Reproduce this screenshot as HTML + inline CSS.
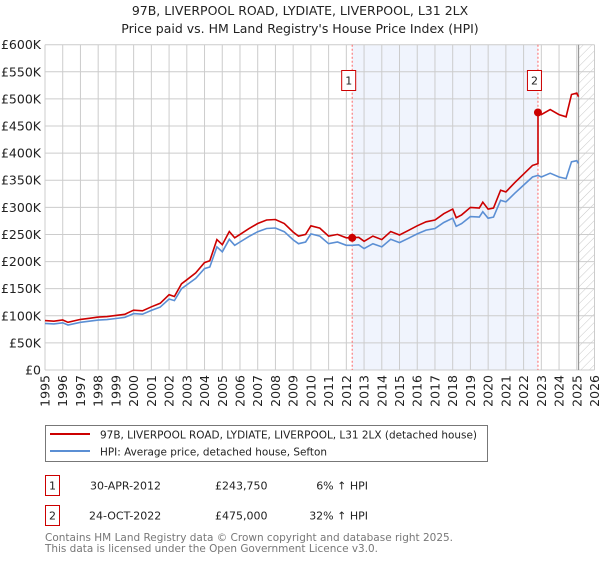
<!DOCTYPE html>
<html><head><meta charset="utf-8">
<style>
html,body{margin:0;padding:0;background:#fff;}
body{width:600px;height:560px;overflow:hidden;font-family:"DejaVu Sans","Liberation Sans",sans-serif;}
svg text{font-family:"DejaVu Sans","Liberation Sans",sans-serif;}
</style></head><body>
<svg id="chart" width="600" height="560" viewBox="0 0 600 560" xmlns="http://www.w3.org/2000/svg">
<defs>
<pattern id="hatch" width="6" height="6" patternUnits="userSpaceOnUse" patternTransform="rotate(45)">
<line x1="0" y1="0" x2="0" y2="6" stroke="#bbb" stroke-width="0.8"/>
</pattern>
</defs>
<text x="300" y="15" text-anchor="middle" font-size="12.5" fill="#222">97B, LIVERPOOL ROAD, LYDIATE, LIVERPOOL, L31 2LX</text>
<text x="300" y="33" text-anchor="middle" font-size="12.5" fill="#222">Price paid vs. HM Land Registry's House Price Index (HPI)</text>
<g id="plot"></g>
<g>
<rect x="45.5" y="425.5" width="442" height="36" fill="#fff" stroke="#777"/>
<line x1="50" y1="434" x2="90" y2="434" stroke="#cc0000" stroke-width="2"/>
<text x="100" y="438.5" font-size="11" textLength="377" lengthAdjust="spacingAndGlyphs" fill="#222">97B, LIVERPOOL ROAD, LYDIATE, LIVERPOOL, L31 2LX (detached house)</text>
<line x1="50" y1="451" x2="90" y2="451" stroke="#5b8fd4" stroke-width="2"/>
<text x="100" y="455.5" font-size="11" textLength="227" lengthAdjust="spacingAndGlyphs" fill="#222">HPI: Average price, detached house, Sefton</text>
</g>
<g>
<rect x="45.5" y="475.5" width="14" height="20" fill="#fff" stroke="#cc0000"/>
<text x="52.5" y="489.5" text-anchor="middle" font-size="11" fill="#222">1</text>
<text x="90" y="489.5" font-size="11" fill="#222">30-APR-2012</text>
<text x="215" y="489.5" font-size="11" fill="#222">£243,750</text>
<text x="368" y="489.5" text-anchor="end" font-size="11" fill="#222">6% ↑ HPI</text>
<rect x="45.5" y="505.5" width="14" height="20" fill="#fff" stroke="#cc0000"/>
<text x="52.5" y="519.5" text-anchor="middle" font-size="11" fill="#222">2</text>
<text x="89" y="519.5" font-size="11" fill="#222">24-OCT-2022</text>
<text x="215" y="519.5" font-size="11" fill="#222">£475,000</text>
<text x="368" y="519.5" text-anchor="end" font-size="11" fill="#222">32% ↑ HPI</text>
</g>
<text x="45" y="541" font-size="11" textLength="408" lengthAdjust="spacingAndGlyphs" fill="#777">Contains HM Land Registry data © Crown copyright and database right 2025.</text>
<text x="45" y="552" font-size="11" textLength="333" lengthAdjust="spacingAndGlyphs" fill="#777">This data is licensed under the Open Government Licence v3.0.</text>
</svg>
<script>
const hpiYears = [1995.0,1995.5,1996.0,1996.3,1997.0,1997.5,1998.0,1998.5,1999.0,1999.5,2000.0,2000.5,2001.0,2001.5,2002.0,2002.3,2002.7,2003.0,2003.5,2004.0,2004.3,2004.7,2005.0,2005.4,2005.7,2006.0,2006.5,2007.0,2007.5,2008.0,2008.5,2009.0,2009.3,2009.7,2010.0,2010.5,2011.0,2011.5,2012.0,2012.33,2012.7,2013.0,2013.5,2014.0,2014.5,2015.0,2015.5,2016.0,2016.5,2017.0,2017.5,2018.0,2018.2,2018.5,2019.0,2019.5,2019.7,2020.0,2020.3,2020.7,2021.0,2021.5,2022.0,2022.5,2022.81,2023.0,2023.5,2024.0,2024.4,2024.7,2025.0,2025.1];
const hpiValues = [86,85,87,83,88,90,92,93,95,97,104,103,110,116,131,128,150,157,169,187,190,227,218,241,230,236,246,255,261,262,255,240,233,236,251,247,233,236,230,230,231,224,233,227,241,235,243,251,258,261,272,280,265,270,283,282,292,280,282,313,310,326,341,356,359,356,363,356,353,384,386,381];
const saleYears = [2012.33, 2022.81];
const salePrices = [243750, 475000];
const saleLabels = ["1","2"];
const yTicks = [0,50,100,150,200,250,300,350,400,450,500,550,600];
const yTickLabels = ["£0","£50K","£100K","£150K","£200K","£250K","£300K","£350K","£400K","£450K","£500K","£550K","£600K"];
const xTicks = [1995,1996,1997,1998,1999,2000,2001,2002,2003,2004,2005,2006,2007,2008,2009,2010,2011,2012,2013,2014,2015,2016,2017,2018,2019,2020,2021,2022,2023,2024,2025,2026];
const dataEndYear = 2025.1;

const L=45,R=594.5,T=44.7,B=370;
const X0=1995,X1=2026,Y0=0,Y1=600;
const xs = v => L + (v-X0)/(X1-X0)*(R-L);
const ys = v => B - (v-Y0)/(Y1-Y0)*(B-T);
const NS="http://www.w3.org/2000/svg";
const plot=document.getElementById('plot');
function mk(tag,attrs,parent){const e=document.createElementNS(NS,tag);for(const k in attrs)e.setAttribute(k,attrs[k]);(parent||plot).appendChild(e);return e;}

function hpiAt(y){for(let i=0;i<hpiYears.length-1;i++){if(y>=hpiYears[i]&&y<=hpiYears[i+1]){const t=(y-hpiYears[i])/(hpiYears[i+1]-hpiYears[i]);return hpiValues[i]+t*(hpiValues[i+1]-hpiValues[i]);}}return hpiValues[hpiValues.length-1];}

let e=mk('rect',{x:xs(saleYears[0]),y:T,width:xs(saleYears[1])-xs(saleYears[0]),height:B-T,fill:'#f0f4fd'});


e=mk('rect',{x:xs(dataEndYear),y:T,width:R-xs(dataEndYear),height:B-T,fill:'url(#hatch)'});



yTicks.forEach((v,i)=>{
 const g=mk('line',{x1:L,x2:R,y1:ys(v),y2:ys(v),stroke:'#cccccc','stroke-width':1});
 
 
 const t=mk('text',{x:41,y:ys(v)+4.5,'text-anchor':'end','font-size':12.5,fill:'#222'});
 t.textContent=yTickLabels[i];
 
 
});
xTicks.forEach(v=>{
 const g=mk('line',{x1:xs(v),x2:xs(v),y1:T,y2:B,stroke:'#cccccc','stroke-width':1});
 
 
 const t=mk('text',{x:0,y:0,'text-anchor':'end','font-size':12.5,fill:'#222',transform:`translate(${xs(v)+4.5},375) rotate(-90)`});
 t.textContent=String(v);
 
 
});
e=mk('line',{x1:xs(dataEndYear),x2:xs(dataEndYear),y1:T,y2:B,stroke:'#999','stroke-width':1.2});



saleYears.forEach((sy,i)=>{
 const l=mk('line',{x1:xs(sy),x2:xs(sy),y1:T,y2:B,stroke:'#ff6666','stroke-width':1,'stroke-dasharray':'2,2'});
 
 
 const r=mk('rect',{x:xs(sy)-10.5,y:70.5,width:14,height:20,fill:'#fff',stroke:'#cc0000'});
 
 
 const t=mk('text',{x:xs(sy)-3.5,y:84.5,'text-anchor':'middle','font-size':11,fill:'#222'});
 t.textContent=saleLabels[i];
});

let d=hpiYears.map((y,i)=>(i?'L':'M')+xs(y).toFixed(1)+','+ys(hpiValues[i]).toFixed(1)).join(' ');
e=mk('path',{d:d,fill:'none',stroke:'#5b8fd4','stroke-width':1.6});



const r1=salePrices[0]/1000/hpiAt(saleYears[0]);
const r2=salePrices[1]/1000/hpiAt(saleYears[1]);
let pts=[];
hpiYears.forEach((y,i)=>{ if(y<saleYears[1]) pts.push([y,hpiValues[i]*r1]); });
pts.push([saleYears[1],hpiAt(saleYears[1])*r1]);
pts.push([saleYears[1],salePrices[1]/1000]);
hpiYears.forEach((y,i)=>{ if(y>saleYears[1]) pts.push([y,hpiValues[i]*r2]); });
d=pts.map((p,i)=>(i?'L':'M')+xs(p[0]).toFixed(1)+','+ys(p[1]).toFixed(1)).join(' ');
e=mk('path',{d:d,fill:'none',stroke:'#cc0000','stroke-width':1.6});



saleYears.forEach((sy,i)=>{
 const c=mk('circle',{cx:xs(sy),cy:ys(salePrices[i]/1000),r:4,fill:'#cc0000'});
 
 
});
</script>
</body></html>
